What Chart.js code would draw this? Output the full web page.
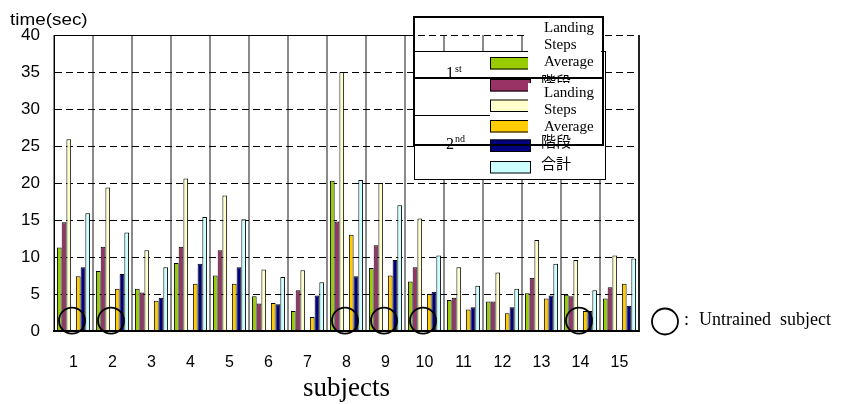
<!DOCTYPE html>
<html>
<head>
<meta charset="utf-8">
<script src="https://cdn.jsdelivr.net/npm/chart.js@4.4.1/dist/chart.umd.min.js"></script>
<style>
  html, body { margin: 0; padding: 0; background: #fff; }
  canvas { display: block; }
</style>
</head>
<body>
<canvas id="chart" width="851" height="404"></canvas>
<script>
// Subjects on the x axis
const subjects = ['1', '2', '3', '4', '5', '6', '7', '8', '9', '10', '11', '12', '13', '14', '15'];

// 1st trial: time on landing, time on steps, and their total (sec)
const landing1 = [11.3, 8.1, 5.7, 9.2, 7.5, 4.7, 2.7, 20.3, 8.5, 6.7, 4.2, 4.0, 5.1, 4.9, 4.4];
const steps1   = [14.7, 11.4, 5.2, 11.4, 10.9, 3.7, 5.5, 14.8, 11.6, 8.6, 4.5, 4.0, 7.2, 4.7, 5.9];
const total1   = [25.9, 19.4, 10.9, 20.6, 18.3, 8.3, 8.2, 35.0, 20.0, 15.2, 8.6, 7.9, 12.3, 9.6, 10.2];

// 2nd trial
const landing2 = [7.4, 5.7, 4.1, 6.4, 6.4, 3.8, 1.9, 13.0, 7.5, 5.0, 2.9, 2.4, 4.4, 2.7, 6.4];
const steps2   = [8.6, 7.7, 4.5, 9.1, 8.6, 3.6, 4.8, 7.4, 9.6, 5.3, 3.2, 3.2, 4.8, 2.7, 3.4];
const total2   = [15.9, 13.3, 8.6, 15.4, 15.1, 7.3, 6.6, 20.4, 17.0, 10.2, 6.1, 5.7, 9.1, 5.5, 9.8];

// Subjects without training (marked with a circle)
const untrained = [1, 2, 8, 9, 10, 14];

// Legend texts
const seriesNames = ['踊り場', '階段', '合計', '踊り場', '階段', '合計'];
const boxTexts = ['Landing', 'Steps', 'Average'];
const trialLabels = [['1', 'st'], ['2', 'nd']];
const untrainedText = 'Untrained  subject';
const yTitle = 'time(sec)';
const xTitle = 'subjects';

const colors = ['#99cc00', '#993366', '#ffffcc', '#ffcc00', '#000080', '#ccffff'];
const serif = '"Liberation Serif", "Times New Roman", serif';
const sans = '"Liberation Sans", Arial, sans-serif';
const cjk = '"Noto Sans CJK JP", sans-serif';

function bar(data, color) {
  return { data, backgroundColor: color, borderColor: '#000', borderWidth: 1, borderSkipped: 'start' };
}

const overlay = {
  id: 'overlay',
  afterDatasetsDraw(chart) {
    const { ctx, chartArea: a, scales: { x, y } } = chart;
    const line = (x1, y1, x2, y2) => { ctx.beginPath(); ctx.moveTo(x1, y1); ctx.lineTo(x2, y2); ctx.stroke(); };
    ctx.save();
    // frame: solid top, dark right edge, heavy baseline
    ctx.strokeStyle = '#000';
    ctx.lineWidth = 1;
    line(a.left, a.top + 0.5, 414, a.top + 0.5);
    ctx.strokeStyle = '#222';
    ctx.lineWidth = 2;
    line(a.right, a.top, a.right, a.bottom);
    ctx.strokeStyle = '#000';
    line(a.left, a.bottom, a.right, a.bottom);
    // untrained subject markers
    ctx.lineWidth = 1.8;
    untrained.forEach(n => {
      const cx = x.getPixelForValue(n - 1) - 1.5;
      const cy = y.getPixelForValue(1.4);
      ctx.beginPath();
      ctx.arc(cx, cy, 13, 0, Math.PI * 2);
      ctx.stroke();
    });
    ctx.restore();
  },
  afterDraw(chart) {
    const { ctx } = chart;
    const line = (x1, y1, x2, y2) => { ctx.beginPath(); ctx.moveTo(x1, y1); ctx.lineTo(x2, y2); ctx.stroke(); };
    ctx.save();
    ctx.fillStyle = '#000';
    ctx.textBaseline = 'alphabetic';

    // y axis caption
    ctx.save();
    ctx.font = '16px ' + sans;
    ctx.translate(10, 25);
    ctx.scale(1.18, 1);
    ctx.fillText(yTitle, 0, 0);
    ctx.restore();

    // untrained marker key
    ctx.lineWidth = 1.8;
    ctx.strokeStyle = '#000';
    ctx.beginPath();
    ctx.arc(665, 321.5, 13, 0, Math.PI * 2);
    ctx.stroke();
    ctx.font = '18px ' + serif;
    ctx.fillText(':', 684, 325);
    ctx.fillText(untrainedText, 699, 325);

    // legend panel
    ctx.fillStyle = '#fff';
    ctx.fillRect(414, 51, 192, 129);
    ctx.strokeStyle = '#000';
    ctx.lineWidth = 1;
    ctx.strokeRect(414.5, 51.5, 191, 128);
    line(414, 115.5, 490, 115.5);

    const swatchTops = [57, 79, 99.5, 120, 139.5, 161];
    swatchTops.forEach((t, i) => {
      ctx.fillStyle = colors[i];
      ctx.fillRect(490, t, 41, 12.5);
      ctx.strokeStyle = '#000';
      ctx.lineWidth = 1;
      ctx.strokeRect(490.5, t + 0.5, 40, 11.5);
      ctx.fillStyle = '#000';
      ctx.font = '15px ' + cjk;
      ctx.textBaseline = 'middle';
      ctx.fillText(seriesNames[i], 541, t + 2);
    });
    ctx.textBaseline = 'alphabetic';

    // translated captions in two text boxes
    ctx.fillStyle = '#fff';
    ctx.fillRect(528, 19, 73, 51);
    ctx.fillRect(528, 83, 73, 51);
    ctx.fillStyle = '#000';
    ctx.font = '15px ' + serif;
    [[32, 49, 66], [97, 114, 131]].forEach(rows => {
      rows.forEach((b, i) => ctx.fillText(boxTexts[i], 544, b));
    });

    // trial labels
    [[78, 72], [149, 142]].forEach(([b, sb], i) => {
      ctx.font = '16px ' + serif;
      ctx.fillText(trialLabels[i][0], 446, b);
      ctx.font = '10px ' + serif;
      ctx.fillText(trialLabels[i][1], 455, sb);
    });

    ctx.strokeStyle = '#000';
    ctx.lineWidth = 2;
    ctx.strokeRect(414, 17, 189, 61);
    ctx.strokeRect(414, 78, 189, 67);
    ctx.restore();
  }
};

Chart.defaults.color = '#000';

new Chart(document.getElementById('chart'), {
  type: 'bar',
  data: {
    labels: subjects,
    datasets: [
      bar(landing1, colors[0]),
      bar(steps1, colors[1]),
      bar(total1, colors[2]),
      { data: [], borderWidth: 0 },
      bar(landing2, colors[3]),
      bar(steps2, colors[4]),
      bar(total2, colors[5])
    ]
  },
  options: {
    responsive: false,
    animation: false,
    devicePixelRatio: 1,
    layout: { padding: { left: 0, top: 35, right: 212, bottom: 0 } },
    datasets: { bar: { categoryPercentage: 0.85, barPercentage: 1 } },
    plugins: { legend: { display: false }, tooltip: { enabled: false } },
    scales: {
      x: {
        grid: { color: '#8a8a8a', lineWidth: 2, drawTicks: false, offset: true },
        border: { display: true, color: '#000', width: 2 },
        ticks: { font: { family: sans, size: 16 }, padding: 22, maxRotation: 0, autoSkip: false },
        title: { display: true, text: xTitle, font: { family: serif, size: 27 }, padding: { top: 0, bottom: -1 } },
        afterFit(scale) { scale.height = 73; }
      },
      y: {
        min: 0,
        max: 40,
        ticks: { stepSize: 5, font: { family: sans, size: 17 }, padding: 14 },
        grid: { color: '#000', lineWidth: 1, drawTicks: false },
        border: { display: true, color: '#000', width: 1, dash: [7, 4] },
        afterFit(scale) { scale.width = 54; }
      }
    }
  },
  plugins: [overlay]
});
</script>
</body>
</html>
